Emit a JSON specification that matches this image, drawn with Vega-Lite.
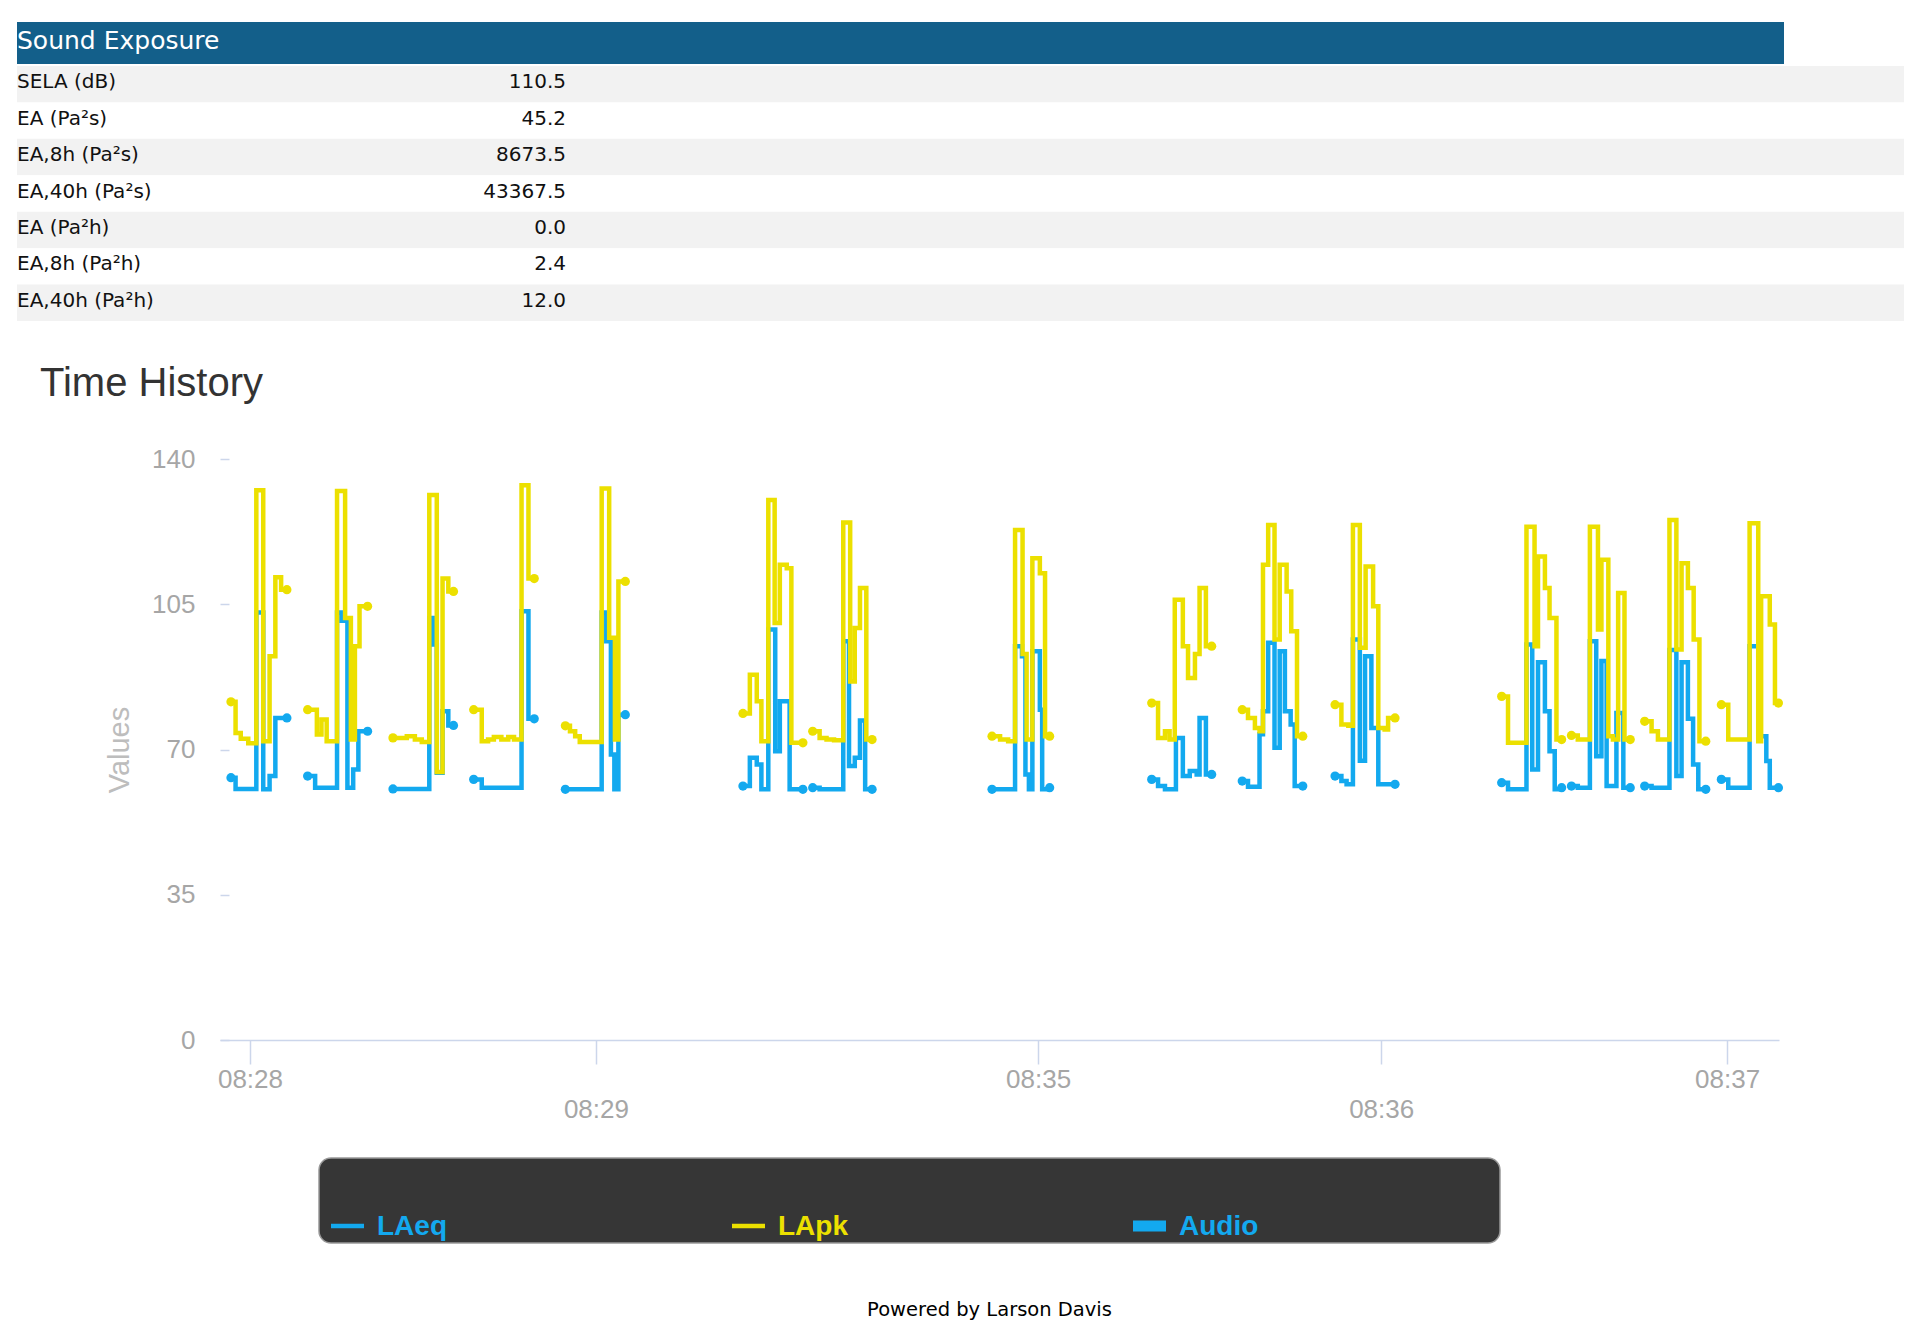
{
  "$schema": "https://vega.github.io/schema/vega-lite/v6.json",
  "background": "white",
  "padding": {"left": 17, "top": 22, "right": 0, "bottom": 0},
  "bounds": "full",
  "spacing": 43,
  "title": {
    "text": "Powered by Larson Davis",
    "orient": "bottom",
    "anchor": "middle",
    "font": "DejaVu Sans",
    "fontSize": 19.5,
    "fontWeight": "normal",
    "color": "#000000",
    "baseline": "top",
    "offset": 57,
    "dx": 29
  },
  "config": {"view": {"stroke": null}},
  "vconcat": [
    {
      "bounds": "flush",
      "spacing": 2,
      "vconcat": [
        {
          "width": 1767,
          "height": 42,
          "view": {"fill": "#135f8a", "stroke": null},
          "data": {"values": [{"section": "Sound Exposure"}]},
          "mark": {"type": "text", "align": "left", "baseline": "middle", "color": "#ffffff", "font": "DejaVu Sans", "fontSize": 25, "dy": -2},
          "encoding": {
            "text": {"field": "section"},
            "x": {"value": 0},
            "y": {"field": "section", "type": "nominal", "axis": null}
          }
        },
        {
          "width": 1887,
          "height": 255,
          "data": {"values": [
            {"measure": "SELA (dB)", "value": 110.5},
            {"measure": "EA (Pa²s)", "value": 45.2},
            {"measure": "EA,8h (Pa²s)", "value": 8673.5},
            {"measure": "EA,40h (Pa²s)", "value": 43367.5},
            {"measure": "EA (Pa²h)", "value": 0.0},
            {"measure": "EA,8h (Pa²h)", "value": 2.4},
            {"measure": "EA,40h (Pa²h)", "value": 12.0}
          ]},
          "transform": [{"window": [{"op": "row_number", "as": "row"}]}],
          "encoding": {
            "y": {"field": "measure", "type": "nominal", "sort": null, "axis": null, "scale": {"paddingInner": 0, "paddingOuter": 0}}
          },
          "layer": [
            {
              "mark": {"type": "rect"},
              "encoding": {
                "x": {"value": 0},
                "x2": {"value": "width"},
                "color": {"condition": {"test": "datum.row % 2 == 1", "value": "#f2f2f2"}, "value": "#ffffff"}
              }
            },
            {
              "mark": {"type": "text", "align": "left", "baseline": "middle", "font": "DejaVu Sans", "fontSize": 20, "color": "#111111", "dy": -2},
              "encoding": {
                "text": {"field": "measure"},
                "x": {"value": 0}
              }
            },
            {
              "mark": {"type": "text", "align": "right", "baseline": "middle", "font": "DejaVu Sans", "fontSize": 20, "color": "#111111", "dy": -2},
              "encoding": {
                "text": {"field": "value", "format": ".1f"},
                "x": {"value": 549}
              }
            }
          ]
        }
      ]
    },
    {
      "bounds": "full",
      "spacing": 35,
      "vconcat": [
        {
          "bounds": "flush",
          "spacing": 0,
          "hconcat": [
            {
              "width": 203,
              "height": 1,
              "data": {"values": []},
              "mark": {"type": "text", "text": ""}
            },
            {
              "width": 1559,
              "height": 581,
              "title": {
                "text": "Time History",
                "anchor": "start",
                "frame": "group",
                "dx": -180,
                "font": "Liberation Sans",
                "fontSize": 40,
                "fontWeight": "normal",
                "color": "#333333",
                "offset": 42
              },
              "data": {"values": [
                {"series": "LAeq", "burst": 1, "sec": 1.9, "dB": 63.2},
                {"series": "LAeq", "burst": 1, "sec": 2.7, "dB": 60.5},
                {"series": "LAeq", "burst": 1, "sec": 6.3, "dB": 103},
                {"series": "LAeq", "burst": 1, "sec": 7.5, "dB": 60.4},
                {"series": "LAeq", "burst": 1, "sec": 8.6, "dB": 63.6},
                {"series": "LAeq", "burst": 1, "sec": 9.6, "dB": 77.6},
                {"series": "LAeq", "burst": 1, "sec": 11.6, "dB": 77.6},
                {"series": "LAeq", "burst": 2, "sec": 15.2, "dB": 63.6},
                {"series": "LAeq", "burst": 2, "sec": 16.5, "dB": 60.8},
                {"series": "LAeq", "burst": 2, "sec": 20.3, "dB": 103},
                {"series": "LAeq", "burst": 2, "sec": 21.1, "dB": 101},
                {"series": "LAeq", "burst": 2, "sec": 22.1, "dB": 60.8},
                {"series": "LAeq", "burst": 2, "sec": 23.1, "dB": 65.2},
                {"series": "LAeq", "burst": 2, "sec": 24.0, "dB": 74.4},
                {"series": "LAeq", "burst": 2, "sec": 25.6, "dB": 74.4},
                {"series": "LAeq", "burst": 3, "sec": 30.0, "dB": 60.5},
                {"series": "LAeq", "burst": 3, "sec": 36.3, "dB": 101.7},
                {"series": "LAeq", "burst": 3, "sec": 37.0, "dB": 95.3},
                {"series": "LAeq", "burst": 3, "sec": 37.6, "dB": 64.4},
                {"series": "LAeq", "burst": 3, "sec": 38.6, "dB": 79.2},
                {"series": "LAeq", "burst": 3, "sec": 39.6, "dB": 75.8},
                {"series": "LAeq", "burst": 3, "sec": 40.5, "dB": 75.8},
                {"series": "LAeq", "burst": 4, "sec": 44.0, "dB": 62.8},
                {"series": "LAeq", "burst": 4, "sec": 45.4, "dB": 60.8},
                {"series": "LAeq", "burst": 4, "sec": 52.3, "dB": 103.3},
                {"series": "LAeq", "burst": 4, "sec": 53.5, "dB": 77.4},
                {"series": "LAeq", "burst": 4, "sec": 54.5, "dB": 77.4},
                {"series": "LAeq", "burst": 5, "sec": 59.9, "dB": 60.4},
                {"series": "LAeq", "burst": 5, "sec": 66.2, "dB": 103},
                {"series": "LAeq", "burst": 5, "sec": 67.0, "dB": 96.1},
                {"series": "LAeq", "burst": 5, "sec": 67.8, "dB": 68.8},
                {"series": "LAeq", "burst": 5, "sec": 68.4, "dB": 60.4},
                {"series": "LAeq", "burst": 5, "sec": 69.1, "dB": 78.4},
                {"series": "LAeq", "burst": 5, "sec": 70.3, "dB": 78.4},
                {"series": "LAeq", "burst": 6, "sec": 90.7, "dB": 61.2},
                {"series": "LAeq", "burst": 6, "sec": 91.9, "dB": 68},
                {"series": "LAeq", "burst": 6, "sec": 93.1, "dB": 66.4},
                {"series": "LAeq", "burst": 6, "sec": 93.9, "dB": 60.4},
                {"series": "LAeq", "burst": 6, "sec": 95.1, "dB": 98.9},
                {"series": "LAeq", "burst": 6, "sec": 96.3, "dB": 69.6},
                {"series": "LAeq", "burst": 6, "sec": 97.1, "dB": 81.6},
                {"series": "LAeq", "burst": 6, "sec": 98.8, "dB": 60.4},
                {"series": "LAeq", "burst": 6, "sec": 101.1, "dB": 60.4},
                {"series": "LAeq", "burst": 7, "sec": 102.8, "dB": 60.8},
                {"series": "LAeq", "burst": 7, "sec": 104.0, "dB": 60.4},
                {"series": "LAeq", "burst": 7, "sec": 108.1, "dB": 96.1},
                {"series": "LAeq", "burst": 7, "sec": 109.1, "dB": 66},
                {"series": "LAeq", "burst": 7, "sec": 110.1, "dB": 68},
                {"series": "LAeq", "burst": 7, "sec": 111.0, "dB": 77},
                {"series": "LAeq", "burst": 7, "sec": 111.9, "dB": 60.4},
                {"series": "LAeq", "burst": 7, "sec": 113.1, "dB": 60.4},
                {"series": "LAeq", "burst": 8, "sec": 133.9, "dB": 60.4},
                {"series": "LAeq", "burst": 8, "sec": 137.9, "dB": 94.9},
                {"series": "LAeq", "burst": 8, "sec": 139.1, "dB": 92.5},
                {"series": "LAeq", "burst": 8, "sec": 139.7, "dB": 64},
                {"series": "LAeq", "burst": 8, "sec": 140.3, "dB": 60.4},
                {"series": "LAeq", "burst": 8, "sec": 140.9, "dB": 93.7},
                {"series": "LAeq", "burst": 8, "sec": 142.2, "dB": 79.6},
                {"series": "LAeq", "burst": 8, "sec": 142.6, "dB": 60.4},
                {"series": "LAeq", "burst": 8, "sec": 143.9, "dB": 60.8},
                {"series": "LAeq", "burst": 9, "sec": 161.6, "dB": 62.8},
                {"series": "LAeq", "burst": 9, "sec": 162.7, "dB": 61.2},
                {"series": "LAeq", "burst": 9, "sec": 163.9, "dB": 60.4},
                {"series": "LAeq", "burst": 9, "sec": 165.8, "dB": 72.8},
                {"series": "LAeq", "burst": 9, "sec": 167.0, "dB": 63.6},
                {"series": "LAeq", "burst": 9, "sec": 168.2, "dB": 64.8},
                {"series": "LAeq", "burst": 9, "sec": 169.4, "dB": 64},
                {"series": "LAeq", "burst": 9, "sec": 169.9, "dB": 77.6},
                {"series": "LAeq", "burst": 9, "sec": 171.0, "dB": 64},
                {"series": "LAeq", "burst": 9, "sec": 172.0, "dB": 64},
                {"series": "LAeq", "burst": 10, "sec": 177.3, "dB": 62.4},
                {"series": "LAeq", "burst": 10, "sec": 178.3, "dB": 61},
                {"series": "LAeq", "burst": 10, "sec": 180.3, "dB": 73.7},
                {"series": "LAeq", "burst": 10, "sec": 180.9, "dB": 79.2},
                {"series": "LAeq", "burst": 10, "sec": 181.8, "dB": 95.7},
                {"series": "LAeq", "burst": 10, "sec": 182.9, "dB": 70.4},
                {"series": "LAeq", "burst": 10, "sec": 183.8, "dB": 93.7},
                {"series": "LAeq", "burst": 10, "sec": 184.7, "dB": 79.2},
                {"series": "LAeq", "burst": 10, "sec": 185.7, "dB": 76},
                {"series": "LAeq", "burst": 10, "sec": 186.4, "dB": 61.2},
                {"series": "LAeq", "burst": 10, "sec": 187.8, "dB": 61.2},
                {"series": "LAeq", "burst": 11, "sec": 193.4, "dB": 63.6},
                {"series": "LAeq", "burst": 11, "sec": 194.5, "dB": 62.4},
                {"series": "LAeq", "burst": 11, "sec": 195.4, "dB": 61.6},
                {"series": "LAeq", "burst": 11, "sec": 196.5, "dB": 96.5},
                {"series": "LAeq", "burst": 11, "sec": 197.7, "dB": 67.3},
                {"series": "LAeq", "burst": 11, "sec": 198.6, "dB": 92.5},
                {"series": "LAeq", "burst": 11, "sec": 199.7, "dB": 75.2},
                {"series": "LAeq", "burst": 11, "sec": 200.9, "dB": 61.6},
                {"series": "LAeq", "burst": 11, "sec": 203.8, "dB": 61.6},
                {"series": "LAeq", "burst": 12, "sec": 222.3, "dB": 62},
                {"series": "LAeq", "burst": 12, "sec": 223.4, "dB": 60.4},
                {"series": "LAeq", "burst": 12, "sec": 226.6, "dB": 95.3},
                {"series": "LAeq", "burst": 12, "sec": 227.6, "dB": 65.2},
                {"series": "LAeq", "burst": 12, "sec": 228.6, "dB": 91},
                {"series": "LAeq", "burst": 12, "sec": 229.8, "dB": 79.2},
                {"series": "LAeq", "burst": 12, "sec": 230.6, "dB": 69.6},
                {"series": "LAeq", "burst": 12, "sec": 231.5, "dB": 60.4},
                {"series": "LAeq", "burst": 12, "sec": 232.7, "dB": 60.8},
                {"series": "LAeq", "burst": 13, "sec": 234.4, "dB": 61.2},
                {"series": "LAeq", "burst": 13, "sec": 235.5, "dB": 60.8},
                {"series": "LAeq", "burst": 13, "sec": 237.6, "dB": 96.1},
                {"series": "LAeq", "burst": 13, "sec": 238.7, "dB": 68.4},
                {"series": "LAeq", "burst": 13, "sec": 239.6, "dB": 91.3},
                {"series": "LAeq", "burst": 13, "sec": 240.5, "dB": 61.2},
                {"series": "LAeq", "burst": 13, "sec": 242.2, "dB": 78.8},
                {"series": "LAeq", "burst": 13, "sec": 243.4, "dB": 60.8},
                {"series": "LAeq", "burst": 13, "sec": 244.6, "dB": 60.8},
                {"series": "LAeq", "burst": 14, "sec": 247.1, "dB": 61.2},
                {"series": "LAeq", "burst": 14, "sec": 248.3, "dB": 60.8},
                {"series": "LAeq", "burst": 14, "sec": 251.4, "dB": 94},
                {"series": "LAeq", "burst": 14, "sec": 252.6, "dB": 63.6},
                {"series": "LAeq", "burst": 14, "sec": 253.5, "dB": 91},
                {"series": "LAeq", "burst": 14, "sec": 254.6, "dB": 77.4},
                {"series": "LAeq", "burst": 14, "sec": 255.5, "dB": 66.4},
                {"series": "LAeq", "burst": 14, "sec": 256.4, "dB": 60.4},
                {"series": "LAeq", "burst": 14, "sec": 257.7, "dB": 60.4},
                {"series": "LAeq", "burst": 15, "sec": 260.4, "dB": 62.8},
                {"series": "LAeq", "burst": 15, "sec": 261.6, "dB": 60.8},
                {"series": "LAeq", "burst": 15, "sec": 265.3, "dB": 94.9},
                {"series": "LAeq", "burst": 15, "sec": 266.8, "dB": 73.2},
                {"series": "LAeq", "burst": 15, "sec": 268.2, "dB": 67.2},
                {"series": "LAeq", "burst": 15, "sec": 268.8, "dB": 60.8},
                {"series": "LAeq", "burst": 15, "sec": 270.3, "dB": 60.8},
                {"series": "LApk", "burst": 1, "sec": 1.9, "dB": 81.5},
                {"series": "LApk", "burst": 1, "sec": 2.7, "dB": 74},
                {"series": "LApk", "burst": 1, "sec": 3.6, "dB": 72.6},
                {"series": "LApk", "burst": 1, "sec": 4.9, "dB": 71.5},
                {"series": "LApk", "burst": 1, "sec": 6.3, "dB": 132.5},
                {"series": "LApk", "burst": 1, "sec": 7.5, "dB": 72},
                {"series": "LApk", "burst": 1, "sec": 8.6, "dB": 92.5},
                {"series": "LApk", "burst": 1, "sec": 9.6, "dB": 111.5},
                {"series": "LApk", "burst": 1, "sec": 10.6, "dB": 108.5},
                {"series": "LApk", "burst": 1, "sec": 11.6, "dB": 108.5},
                {"series": "LApk", "burst": 2, "sec": 15.2, "dB": 79.6},
                {"series": "LApk", "burst": 2, "sec": 16.8, "dB": 73.6},
                {"series": "LApk", "burst": 2, "sec": 17.6, "dB": 77.2},
                {"series": "LApk", "burst": 2, "sec": 18.5, "dB": 72},
                {"series": "LApk", "burst": 2, "sec": 20.3, "dB": 132.3},
                {"series": "LApk", "burst": 2, "sec": 21.7, "dB": 101.7},
                {"series": "LApk", "burst": 2, "sec": 22.7, "dB": 72.4},
                {"series": "LApk", "burst": 2, "sec": 23.4, "dB": 94.9},
                {"series": "LApk", "burst": 2, "sec": 24.2, "dB": 104.5},
                {"series": "LApk", "burst": 2, "sec": 25.6, "dB": 104.5},
                {"series": "LApk", "burst": 3, "sec": 30.0, "dB": 72.8},
                {"series": "LApk", "burst": 3, "sec": 32.4, "dB": 73.2},
                {"series": "LApk", "burst": 3, "sec": 33.8, "dB": 72.4},
                {"series": "LApk", "burst": 3, "sec": 35.0, "dB": 71.8},
                {"series": "LApk", "burst": 3, "sec": 36.3, "dB": 131.3},
                {"series": "LApk", "burst": 3, "sec": 37.6, "dB": 64.6},
                {"series": "LApk", "burst": 3, "sec": 38.6, "dB": 111.2},
                {"series": "LApk", "burst": 3, "sec": 39.6, "dB": 108.1},
                {"series": "LApk", "burst": 3, "sec": 40.5, "dB": 108.1},
                {"series": "LApk", "burst": 4, "sec": 44.0, "dB": 79.6},
                {"series": "LApk", "burst": 4, "sec": 45.4, "dB": 72},
                {"series": "LApk", "burst": 4, "sec": 46.5, "dB": 72.4},
                {"series": "LApk", "burst": 4, "sec": 47.5, "dB": 73},
                {"series": "LApk", "burst": 4, "sec": 48.8, "dB": 72.4},
                {"series": "LApk", "burst": 4, "sec": 50.0, "dB": 73},
                {"series": "LApk", "burst": 4, "sec": 51.0, "dB": 72.4},
                {"series": "LApk", "burst": 4, "sec": 52.3, "dB": 133.7},
                {"series": "LApk", "burst": 4, "sec": 53.5, "dB": 111.2},
                {"series": "LApk", "burst": 4, "sec": 54.5, "dB": 111.2},
                {"series": "LApk", "burst": 5, "sec": 59.9, "dB": 75.7},
                {"series": "LApk", "burst": 5, "sec": 60.7, "dB": 74.4},
                {"series": "LApk", "burst": 5, "sec": 61.6, "dB": 73.2},
                {"series": "LApk", "burst": 5, "sec": 62.4, "dB": 71.8},
                {"series": "LApk", "burst": 5, "sec": 66.2, "dB": 132.9},
                {"series": "LApk", "burst": 5, "sec": 67.5, "dB": 96.9},
                {"series": "LApk", "burst": 5, "sec": 68.5, "dB": 72.4},
                {"series": "LApk", "burst": 5, "sec": 69.1, "dB": 110.5},
                {"series": "LApk", "burst": 5, "sec": 70.3, "dB": 110.5},
                {"series": "LApk", "burst": 6, "sec": 90.7, "dB": 78.7},
                {"series": "LApk", "burst": 6, "sec": 91.9, "dB": 88},
                {"series": "LApk", "burst": 6, "sec": 93.1, "dB": 81.6},
                {"series": "LApk", "burst": 6, "sec": 93.9, "dB": 72},
                {"series": "LApk", "burst": 6, "sec": 95.1, "dB": 130.1},
                {"series": "LApk", "burst": 6, "sec": 96.2, "dB": 100.5},
                {"series": "LApk", "burst": 6, "sec": 97.1, "dB": 114.5},
                {"series": "LApk", "burst": 6, "sec": 98.3, "dB": 113.7},
                {"series": "LApk", "burst": 6, "sec": 99.1, "dB": 71.6},
                {"series": "LApk", "burst": 6, "sec": 101.1, "dB": 71.6},
                {"series": "LApk", "burst": 7, "sec": 102.8, "dB": 74.4},
                {"series": "LApk", "burst": 7, "sec": 104.0, "dB": 72.8},
                {"series": "LApk", "burst": 7, "sec": 105.2, "dB": 72.4},
                {"series": "LApk", "burst": 7, "sec": 106.5, "dB": 72.2},
                {"series": "LApk", "burst": 7, "sec": 108.1, "dB": 124.7},
                {"series": "LApk", "burst": 7, "sec": 109.3, "dB": 86.4},
                {"series": "LApk", "burst": 7, "sec": 110.1, "dB": 99.3},
                {"series": "LApk", "burst": 7, "sec": 111.0, "dB": 108.9},
                {"series": "LApk", "burst": 7, "sec": 112.1, "dB": 72.4},
                {"series": "LApk", "burst": 7, "sec": 113.1, "dB": 72.4},
                {"series": "LApk", "burst": 8, "sec": 133.9, "dB": 73.2},
                {"series": "LApk", "burst": 8, "sec": 135.3, "dB": 72.4},
                {"series": "LApk", "burst": 8, "sec": 136.7, "dB": 72},
                {"series": "LApk", "burst": 8, "sec": 137.9, "dB": 122.9},
                {"series": "LApk", "burst": 8, "sec": 139.2, "dB": 93},
                {"series": "LApk", "burst": 8, "sec": 139.9, "dB": 72.4},
                {"series": "LApk", "burst": 8, "sec": 140.9, "dB": 116.1},
                {"series": "LApk", "burst": 8, "sec": 142.2, "dB": 112.5},
                {"series": "LApk", "burst": 8, "sec": 143.1, "dB": 73.2},
                {"series": "LApk", "burst": 8, "sec": 143.9, "dB": 73.2},
                {"series": "LApk", "burst": 9, "sec": 161.6, "dB": 81.2},
                {"series": "LApk", "burst": 9, "sec": 162.7, "dB": 72.8},
                {"series": "LApk", "burst": 9, "sec": 163.9, "dB": 74.4},
                {"series": "LApk", "burst": 9, "sec": 164.7, "dB": 72.4},
                {"series": "LApk", "burst": 9, "sec": 165.6, "dB": 106.1},
                {"series": "LApk", "burst": 9, "sec": 167.0, "dB": 94.9},
                {"series": "LApk", "burst": 9, "sec": 167.9, "dB": 87.2},
                {"series": "LApk", "burst": 9, "sec": 169.1, "dB": 93},
                {"series": "LApk", "burst": 9, "sec": 169.9, "dB": 108.9},
                {"series": "LApk", "burst": 9, "sec": 171.0, "dB": 94.9},
                {"series": "LApk", "burst": 9, "sec": 172.0, "dB": 94.9},
                {"series": "LApk", "burst": 10, "sec": 177.3, "dB": 79.6},
                {"series": "LApk", "burst": 10, "sec": 178.3, "dB": 77.6},
                {"series": "LApk", "burst": 10, "sec": 179.5, "dB": 75.2},
                {"series": "LApk", "burst": 10, "sec": 180.3, "dB": 74.4},
                {"series": "LApk", "burst": 10, "sec": 180.9, "dB": 114.5},
                {"series": "LApk", "burst": 10, "sec": 181.8, "dB": 124.1},
                {"series": "LApk", "burst": 10, "sec": 182.9, "dB": 96.5},
                {"series": "LApk", "burst": 10, "sec": 183.8, "dB": 114.5},
                {"series": "LApk", "burst": 10, "sec": 185.0, "dB": 108.1},
                {"series": "LApk", "burst": 10, "sec": 185.8, "dB": 98.5},
                {"series": "LApk", "burst": 10, "sec": 186.8, "dB": 73.2},
                {"series": "LApk", "burst": 10, "sec": 187.8, "dB": 73.2},
                {"series": "LApk", "burst": 11, "sec": 193.4, "dB": 80.8},
                {"series": "LApk", "burst": 11, "sec": 194.5, "dB": 76},
                {"series": "LApk", "burst": 11, "sec": 195.7, "dB": 75.7},
                {"series": "LApk", "burst": 11, "sec": 196.5, "dB": 124.1},
                {"series": "LApk", "burst": 11, "sec": 197.7, "dB": 94.5},
                {"series": "LApk", "burst": 11, "sec": 198.7, "dB": 114.1},
                {"series": "LApk", "burst": 11, "sec": 200.0, "dB": 104.5},
                {"series": "LApk", "burst": 11, "sec": 200.9, "dB": 75.2},
                {"series": "LApk", "burst": 11, "sec": 202.0, "dB": 74.8},
                {"series": "LApk", "burst": 11, "sec": 202.6, "dB": 77.6},
                {"series": "LApk", "burst": 11, "sec": 203.8, "dB": 77.6},
                {"series": "LApk", "burst": 12, "sec": 222.3, "dB": 82.8},
                {"series": "LApk", "burst": 12, "sec": 223.4, "dB": 71.6},
                {"series": "LApk", "burst": 12, "sec": 226.6, "dB": 123.7},
                {"series": "LApk", "burst": 12, "sec": 228.0, "dB": 94.9},
                {"series": "LApk", "burst": 12, "sec": 228.6, "dB": 116.5},
                {"series": "LApk", "burst": 12, "sec": 229.8, "dB": 108.9},
                {"series": "LApk", "burst": 12, "sec": 230.6, "dB": 101.7},
                {"series": "LApk", "burst": 12, "sec": 231.8, "dB": 72.4},
                {"series": "LApk", "burst": 12, "sec": 232.7, "dB": 72.4},
                {"series": "LApk", "burst": 13, "sec": 234.4, "dB": 73.4},
                {"series": "LApk", "burst": 13, "sec": 235.5, "dB": 72.4},
                {"series": "LApk", "burst": 13, "sec": 237.6, "dB": 123.7},
                {"series": "LApk", "burst": 13, "sec": 239.0, "dB": 98.9},
                {"series": "LApk", "burst": 13, "sec": 239.6, "dB": 115.7},
                {"series": "LApk", "burst": 13, "sec": 240.8, "dB": 73.2},
                {"series": "LApk", "burst": 13, "sec": 241.6, "dB": 72.4},
                {"series": "LApk", "burst": 13, "sec": 242.5, "dB": 107.7},
                {"series": "LApk", "burst": 13, "sec": 243.6, "dB": 72.4},
                {"series": "LApk", "burst": 13, "sec": 244.6, "dB": 72.4},
                {"series": "LApk", "burst": 14, "sec": 247.1, "dB": 76.8},
                {"series": "LApk", "burst": 14, "sec": 248.3, "dB": 74.4},
                {"series": "LApk", "burst": 14, "sec": 249.4, "dB": 72.4},
                {"series": "LApk", "burst": 14, "sec": 251.4, "dB": 125.3},
                {"series": "LApk", "burst": 14, "sec": 252.6, "dB": 94.1},
                {"series": "LApk", "burst": 14, "sec": 253.5, "dB": 114.9},
                {"series": "LApk", "burst": 14, "sec": 254.6, "dB": 108.9},
                {"series": "LApk", "burst": 14, "sec": 255.6, "dB": 96.5},
                {"series": "LApk", "burst": 14, "sec": 256.6, "dB": 72},
                {"series": "LApk", "burst": 14, "sec": 257.7, "dB": 72},
                {"series": "LApk", "burst": 15, "sec": 260.4, "dB": 80.8},
                {"series": "LApk", "burst": 15, "sec": 261.6, "dB": 72.4},
                {"series": "LApk", "burst": 15, "sec": 265.3, "dB": 124.5},
                {"series": "LApk", "burst": 15, "sec": 266.8, "dB": 72},
                {"series": "LApk", "burst": 15, "sec": 267.3, "dB": 106.9},
                {"series": "LApk", "burst": 15, "sec": 268.8, "dB": 100.1},
                {"series": "LApk", "burst": 15, "sec": 269.7, "dB": 81.2},
                {"series": "LApk", "burst": 15, "sec": 270.3, "dB": 81.2}
              ]},
              "encoding": {
                "x": {
                  "field": "sec",
                  "type": "quantitative",
                  "scale": {"domain": [0, 270.4], "nice": false, "zero": false},
                  "axis": {
                    "title": null,
                    "grid": false,
                    "values": [5.2, 65.2, 141.9, 201.4, 261.4],
                    "labelExpr": "datum.value == 5.2 ? '08:28' : datum.value == 65.2 ? ['', '08:29'] : datum.value == 141.9 ? '08:35' : datum.value == 201.4 ? ['', '08:36'] : '08:37'",
                    "domainColor": "#ccd6eb",
                    "domainWidth": 1.5,
                    "tickColor": "#ccd6eb",
                    "tickWidth": 1.5,
                    "tickSize": 24,
                    "labelFont": "Liberation Sans",
                    "labelFontSize": 26,
                    "labelLineHeight": 30,
                    "labelColor": "#a6a6a6",
                    "labelBaseline": "top",
                    "labelFlush": false,
                    "labelOverlap": false,
                    "labelPadding": 2
                  }
                },
                "y": {
                  "field": "dB",
                  "type": "quantitative",
                  "scale": {"domain": [0, 140], "nice": false},
                  "axis": {
                    "title": "Values",
                    "grid": false,
                    "domain": false,
                    "values": [0, 35, 70, 105, 140],
                    "tickColor": "#ccd6eb",
                    "tickWidth": 1.5,
                    "tickSize": -9,
                    "labelFont": "Liberation Sans",
                    "labelFontSize": 26,
                    "labelColor": "#a6a6a6",
                    "labelPadding": 34,
                    "titleFont": "Liberation Sans",
                    "titleFontSize": 29,
                    "titleFontWeight": "normal",
                    "titleColor": "#bdbdbd",
                    "titlePadding": 17
                  }
                },
                "color": {
                  "field": "series",
                  "type": "nominal",
                  "scale": {"domain": ["LAeq", "LApk", "Audio"], "range": ["#13a9ef", "#ece000", "#13a9ef"]},
                  "legend": null
                }
              },
              "layer": [
                {
                  "mark": {"type": "line", "interpolate": "step-after", "strokeWidth": 4.5},
                  "encoding": {"detail": {"field": "burst", "type": "nominal"}}
                },
                {
                  "transform": [
                    {"window": [{"op": "row_number", "as": "i"}, {"op": "count", "as": "n"}], "groupby": ["series", "burst"], "sort": [{"field": "sec"}], "frame": [null, null]},
                    {"filter": "datum.i == 1 || datum.i == datum.n"}
                  ],
                  "mark": {"type": "circle", "size": 85, "opacity": 1},
                  "encoding": {"detail": {"field": "burst", "type": "nominal"}}
                }
              ]
            }
          ]
        },
        {
          "bounds": "flush",
          "spacing": 0,
          "hconcat": [
            {
              "width": 302,
              "height": 1,
              "data": {"values": []},
              "mark": {"type": "text", "text": ""}
            },
            {
              "width": 1181,
              "height": 85,
              "view": {"fill": "#363636", "stroke": "#999999", "strokeWidth": 1.5, "cornerRadius": 12},
              "data": {"values": [
                {"series": "LAeq"},
                {"series": "LApk"},
                {"series": "Audio"}
              ]},
              "encoding": {
                "x": {"field": "series", "type": "nominal", "axis": null, "scale": {"type": "point", "domain": ["LAeq", "LApk", "Audio"], "range": [12, 814], "padding": 0}},
                "y": {"datum": 0.2, "type": "quantitative", "axis": null, "scale": {"domain": [0, 1], "nice": false}},
                "color": {
                  "field": "series",
                  "type": "nominal",
                  "scale": {"domain": ["LAeq", "LApk", "Audio"], "range": ["#13a9ef", "#ece000", "#13a9ef"]},
                  "legend": null
                }
              },
              "layer": [
                {
                  "mark": {"type": "rule", "x2Offset": 33},
                  "encoding": {
                    "x2": {"field": "series"},
                    "strokeWidth": {"condition": {"test": "datum.series == 'Audio'", "value": 11}, "value": 4.5}
                  }
                },
                {
                  "mark": {"type": "text", "align": "left", "baseline": "middle", "dx": 46, "dy": 1, "font": "Liberation Sans", "fontSize": 28, "fontWeight": "bold"},
                  "encoding": {"text": {"field": "series"}}
                }
              ]
            }
          ]
        }
      ]
    }
  ]
}
